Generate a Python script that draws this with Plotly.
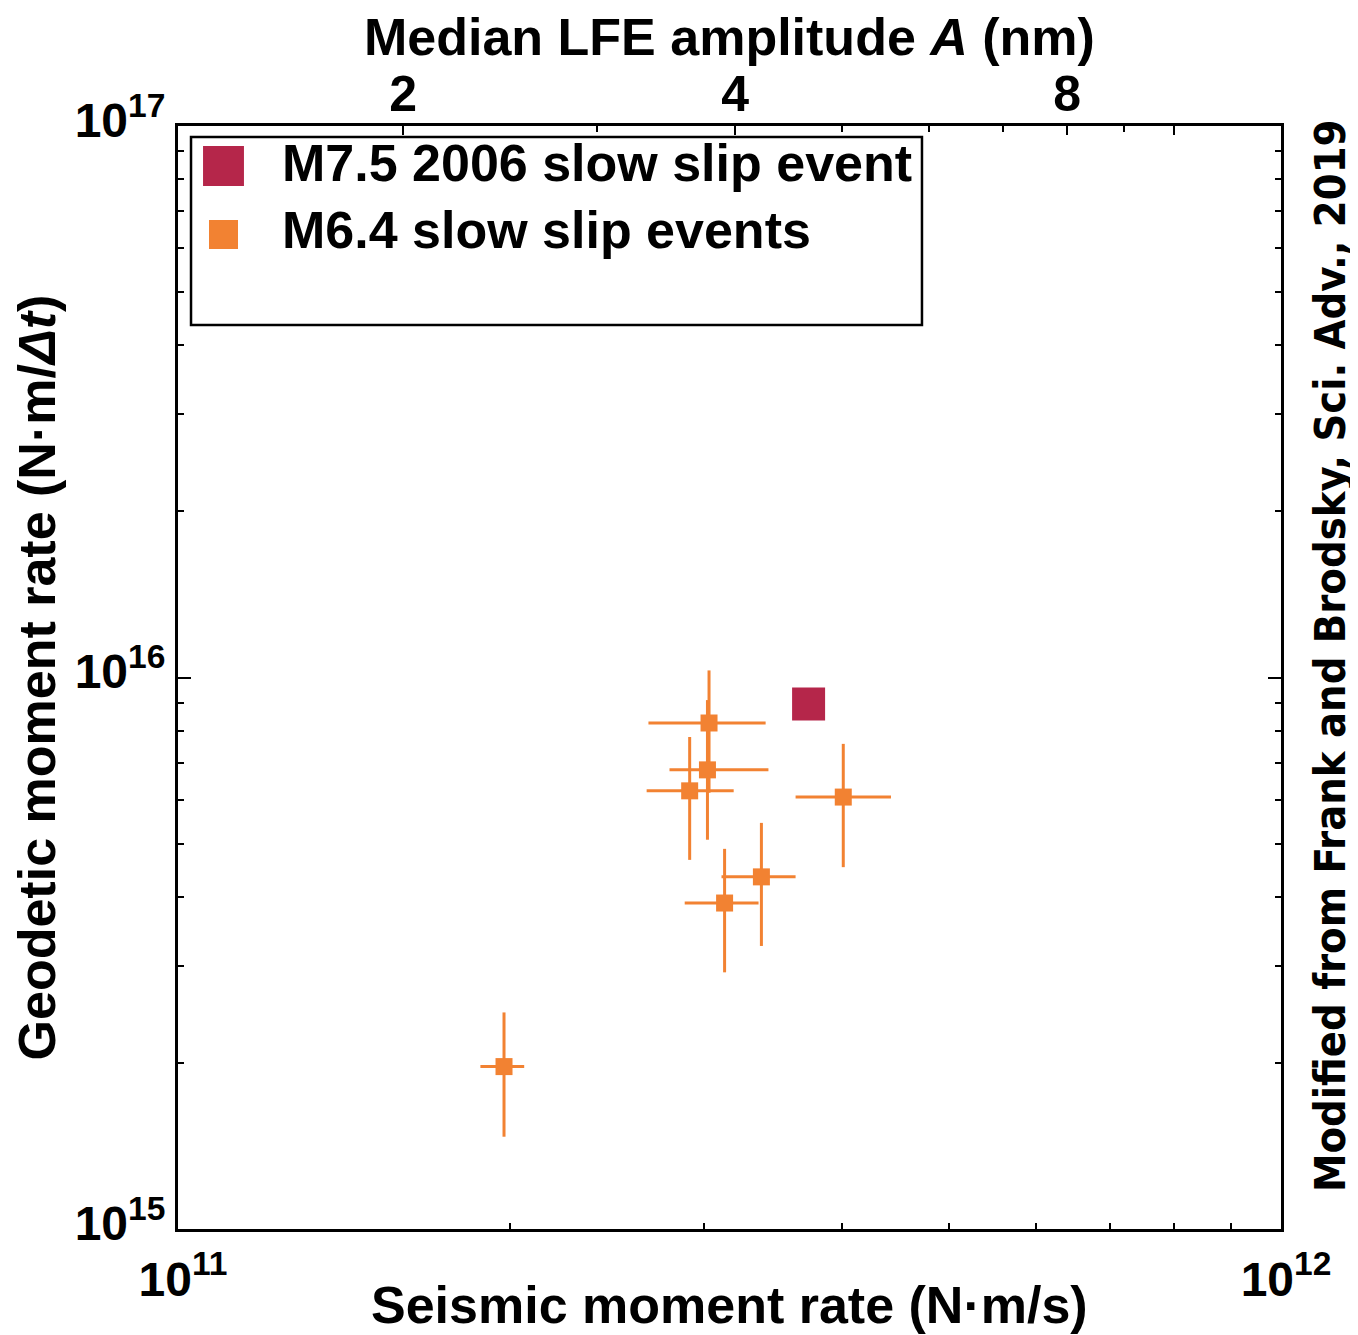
import numpy as np
import plotly.graph_objects as go

# M6.4 slow slip events: seismic moment rate (N·m/s) and geodetic moment rate (N·m/Δt)
sse_seis = [3.03e11, 3.02e11, 2.91e11, 4.01e11, 3.38e11, 3.13e11, 1.975e11]
sse_seis_lo = [2.67e11, 2.79e11, 2.66e11, 3.63e11, 3.11e11, 2.88e11, 1.88e11]
sse_seis_hi = [3.41e11, 3.43e11, 3.19e11, 4.43e11, 3.63e11, 3.36e11, 2.06e11]
sse_geod = [8.27e15, 6.80e15, 6.23e15, 6.07e15, 4.35e15, 3.90e15, 1.97e15]
sse_geod_lo = [6.18e15, 5.08e15, 4.67e15, 4.53e15, 3.26e15, 2.92e15, 1.47e15]
sse_geod_hi = [1.03e16, 9.10e15, 7.80e15, 7.58e15, 5.45e15, 4.89e15, 2.47e15]

# M7.5 2006 slow slip event
big_seis = [3.73e11]
big_geod = [8.95e15]

# top axis: median LFE amplitude A (nm), proportional to seismic moment rate
amp_per_rate = 1 / 8.0e10
amp_major = [2, 4, 8, 10]
amp_major_text = ["2", "4", "8", ""]
amp_minor = [3, 5, 6, 7, 9]

legend_names = ["M7.5 2006 slow slip event", "M6.4 slow slip events"]

RED = "#B5264A"
ORANGE = "#F28232"
FONT = "Liberation Sans"

sse_seis = np.array(sse_seis)
sse_geod = np.array(sse_geod)

fig = go.Figure()
fig.add_trace(go.Scatter(
    x=sse_seis, y=sse_geod, mode="markers",
    marker=dict(symbol="square", size=17, color=ORANGE),
    error_x=dict(type="data", symmetric=False,
                 array=np.array(sse_seis_hi) - sse_seis,
                 arrayminus=sse_seis - np.array(sse_seis_lo),
                 color=ORANGE, thickness=3, width=0),
    error_y=dict(type="data", symmetric=False,
                 array=np.array(sse_geod_hi) - sse_geod,
                 arrayminus=sse_geod - np.array(sse_geod_lo),
                 color=ORANGE, thickness=3, width=0),
    name=legend_names[1], showlegend=False,
))
fig.add_trace(go.Scatter(
    x=big_seis, y=big_geod, mode="markers",
    marker=dict(symbol="square", size=33, color=RED),
    name=legend_names[0], showlegend=False,
))

# dummy trace so the amplitude axis is drawn
fig.add_trace(go.Scatter(x=[2, 8], y=[1e16, 1e16], xaxis="x2", mode="markers",
                         marker=dict(opacity=0), hoverinfo="skip",
                         showlegend=False))

x_lo, x_hi = 1e11, 1e12
tick_style = dict(ticks="inside", tickwidth=2, tickcolor="black")
title_font = dict(size=52)
fig.update_layout(
    # page body adds an 8 px margin, so the figure is 8 px smaller
    width=1350, height=1327,
    paper_bgcolor="white", plot_bgcolor="white",
    margin=dict(l=170, r=77, t=118, b=106),
    font=dict(family=FONT, color="black", size=52, weight="bold"),
    xaxis=dict(
        type="log", range=[11, 12], automargin=False,
        tickvals=[1e11, 1e12], ticktext=["10<sup>11</sup>", "10<sup>12</sup>"],
        tickfont=dict(size=48),
        ticklen=8, ticklabelstandoff=6, ticklabelshift=5, **tick_style,
        minor=dict(tickvals=[k * 1e11 for k in range(2, 10)], ticklen=6,
                   **tick_style),
        showline=True, linewidth=3, linecolor="black", mirror=True,
        showgrid=False, zeroline=False,
    ),
    xaxis2=dict(
        type="log", overlaying="x", side="top", automargin=False,
        range=[np.log10(x_lo * amp_per_rate), np.log10(x_hi * amp_per_rate)],
        tickvals=amp_major, ticktext=amp_major_text, tickfont=dict(size=50),
        ticklen=9, ticklabelstandoff=4, **tick_style,
        minor=dict(tickvals=amp_minor, ticklen=6, **tick_style),
        showgrid=False, zeroline=False, showline=False,
    ),
    yaxis=dict(
        type="log", range=[15, 17], automargin=False,
        tickvals=[1e15, 1e16, 1e17],
        ticktext=["10<sup>15</sup>", "10<sup>16</sup>", "10<sup>17</sup>"],
        tickfont=dict(size=48), ticklabelshift=-6,
        ticklen=13, **tick_style,
        minor=dict(tickvals=[k * 10 ** e for e in (15, 16) for k in range(2, 10)],
                   ticklen=6, **tick_style),
        showline=True, linewidth=3, linecolor="black", mirror="ticks",
        showgrid=False, zeroline=False,
        title=dict(text="Geodetic moment rate (N·m/<i>Δt</i>)", standoff=12,
                   font=title_font),
    ),
)

# legend drawn by hand so the swatches keep their size
shapes = [
    dict(type="rect", xref="paper", yref="paper", x0=0.0118, x1=0.6745,
         y0=0.8196, y1=0.9900, line=dict(color="black", width=2.5),
         fillcolor="white"),
    dict(type="rect", xref="paper", yref="paper", x0=0.0227, x1=0.0598,
         y0=0.9456, y1=0.9819, line=dict(width=0), fillcolor=RED),
    dict(type="rect", xref="paper", yref="paper", x0=0.0281, x1=0.0544,
         y0=0.8885, y1=0.9148, line=dict(width=0), fillcolor=ORANGE),
]
fig.update_layout(shapes=shapes)

credit = "Modified from Frank and Brodsky, Sci. Adv., 2019"
annotations = [
    dict(text=legend_names[0], xref="paper", yref="paper", x=0.0925, y=0.9668,
         xanchor="left", yanchor="middle", showarrow=False),
    dict(text=legend_names[1], xref="paper", yref="paper", x=0.0925, y=0.906,
         xanchor="left", yanchor="middle", showarrow=False),
    # axis titles for the two x axes, placed by hand
    dict(text="Seismic moment rate (N·m/s)", xref="paper", yref="paper",
         x=0.5, y=-0.069, xanchor="center", yanchor="middle",
         showarrow=False, font=title_font),
    dict(text="Median LFE amplitude <i>A</i> (nm)", xref="paper", yref="paper",
         x=0.5, y=1.0807, xanchor="center", yanchor="middle",
         showarrow=False, font=title_font),
    dict(text='<span style="font-stretch:condensed">' + credit + "</span>",
         xref="paper", yref="paper", x=1.0444, y=0.5195,
         xanchor="center", yanchor="middle", textangle=-90, showarrow=False,
         font=dict(family="DejaVu Sans Condensed, DejaVu Sans", size=43,
                   weight="bold")),
]
fig.update_layout(annotations=annotations)

fig.write_html("out.html")
